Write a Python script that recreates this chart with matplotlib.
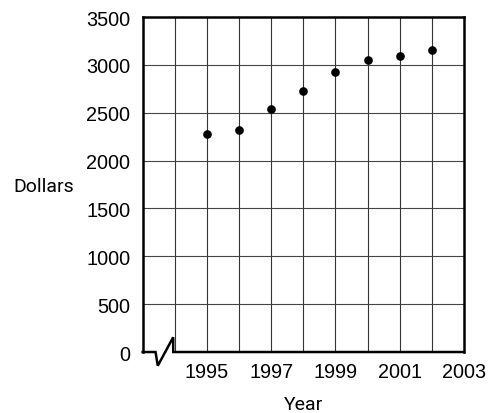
import matplotlib
matplotlib.use("Agg")
import matplotlib.pyplot as plt

years = [1995, 1996, 1997, 1998, 1999, 2000, 2001, 2002]
dollars = [2275, 2315, 2540, 2730, 2930, 3055, 3095, 3160]
xticks = [1995, 1997, 1999, 2001, 2003]
yticks = [0, 500, 1000, 1500, 2000, 2500, 3000, 3500]
xgrid = [1994, 1995, 1996, 1997, 1998, 1999, 2000, 2001, 2002]

fig = plt.figure(figsize=(4.91, 4.14), dpi=100)
ax = fig.add_axes([0.2906, 0.1473, 0.6544, 0.8092])
ax.set_xlim(1993, 2003)
ax.set_ylim(0, 3500)

for g in xgrid:
    ax.axvline(g, color='#333333', lw=0.8, zorder=1)
for g in yticks[1:-1]:
    ax.axhline(g, color='#444444', lw=0.8, zorder=1)

ax.plot(years, dollars, 'o', color='black', ms=5.2, zorder=3)

ax.set_xticks(xticks)
ax.set_yticks(yticks)
ax.set_xticklabels([str(t) for t in xticks], family='Liberation Sans', fontsize=14.3)
ax.set_yticklabels([str(t) for t in yticks], family='Liberation Sans', fontsize=14.3)
ax.tick_params(axis='both', length=0)
ax.tick_params(axis='y', pad=9)
ax.tick_params(axis='x', pad=7)

for s in ['left', 'right', 'top']:
    ax.spines[s].set_linewidth(1.8)
    ax.spines[s].set_color('black')
ax.spines['bottom'].set_visible(False)

# bottom axis with break symbol
bx = [1993, 1993.40, 1993.47, 1993.95, 1993.95, 2003]
by = [0, 0, -143, 154, 0, 0]
ax.plot(bx, by, color='black', lw=1.8, clip_on=False, zorder=4,
        solid_joinstyle='miter', solid_capstyle='projecting')

ax.set_ylabel('Dollars', family='Roboto', fontsize=14, rotation=0, labelpad=0,
              ha='center', va='center')
ax.yaxis.set_label_coords(-0.307, 0.495)
ax.set_xlabel('Year', family='Roboto', fontsize=14, va='center')
ax.xaxis.set_label_coords(0.5, -0.155)

fig.savefig('out.png', dpi=100)
